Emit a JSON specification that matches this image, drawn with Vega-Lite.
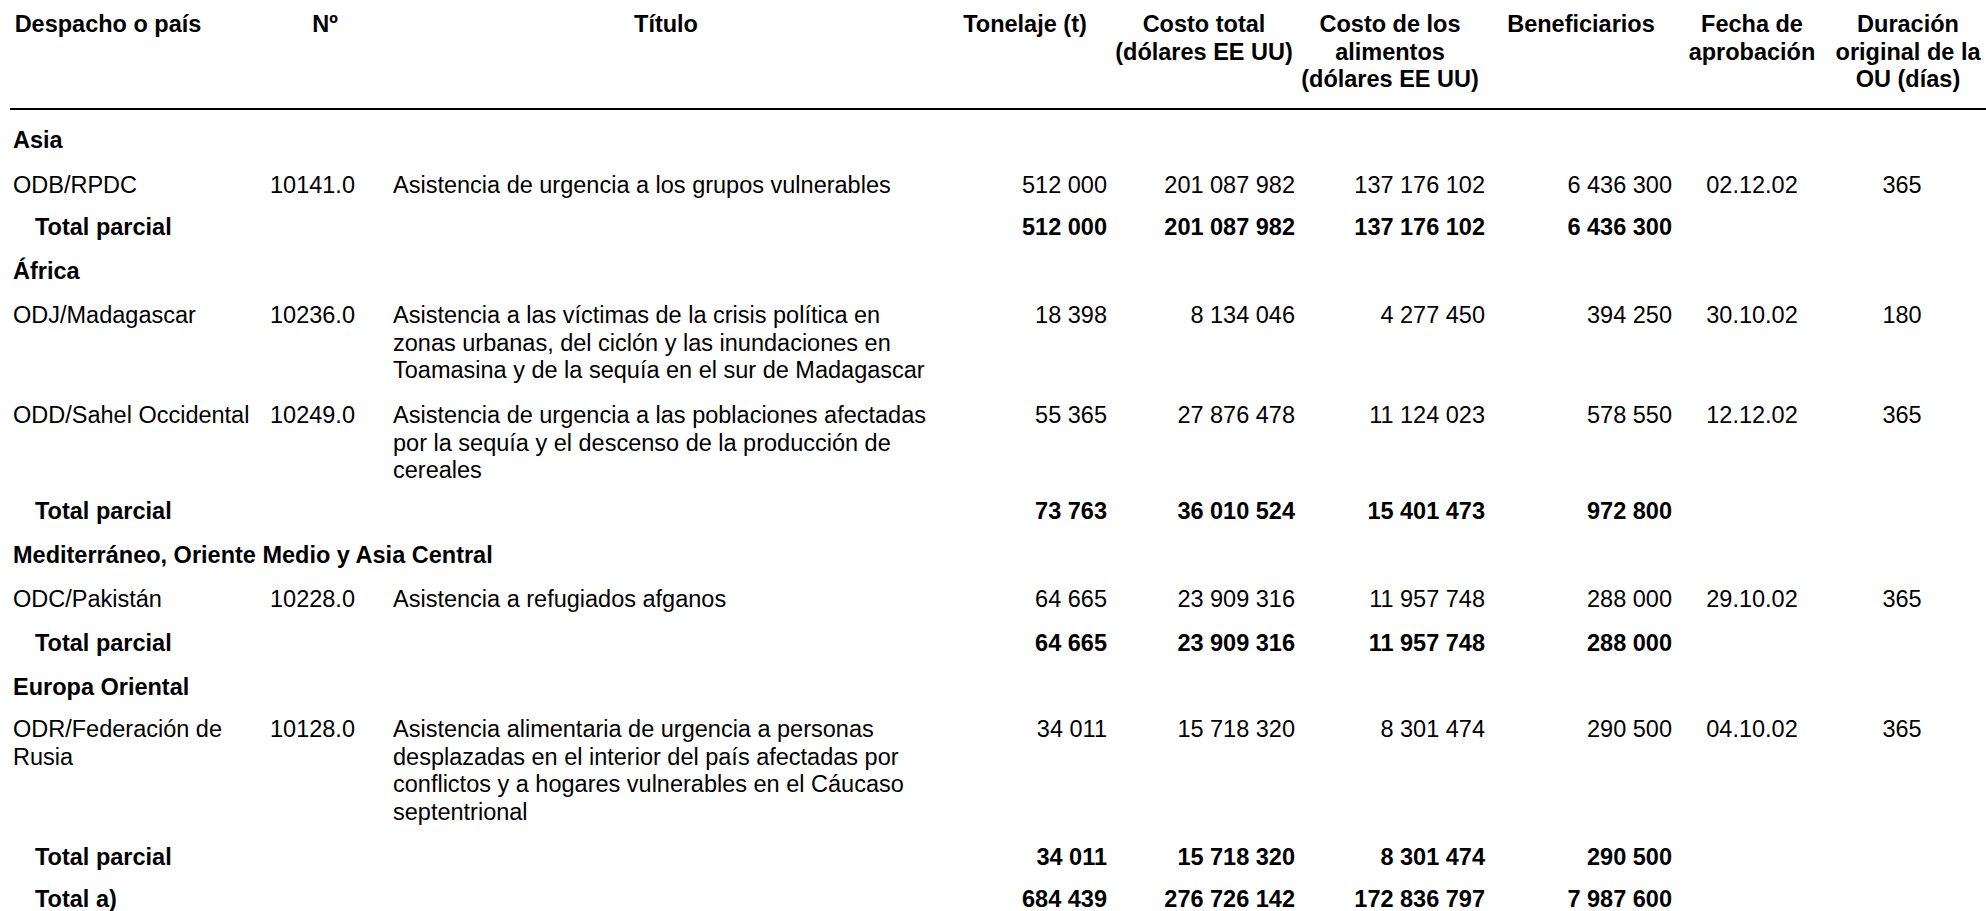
{
  "$schema": "https://vega.github.io/schema/vega-lite/v6.json",
  "width": 1986,
  "height": 911,
  "padding": 0,
  "autosize": {"type": "none"},
  "background": "white",
  "config": {
    "view": {"stroke": null},
    "text": {"font": "Liberation Sans", "fontSize": 23.5, "lineHeight": 27.5, "lineBreak": "\n", "color": "#000000", "baseline": "alphabetic"}
  },
  "data": {
    "values": [
      {"r": 0, "c": 3, "tipo": "encabezado", "texto": "Despacho o país"},
      {"r": 0, "c": 5, "tipo": "encabezado", "texto": "Nº"},
      {"r": 0, "c": 7, "tipo": "encabezado", "texto": "Título"},
      {"r": 0, "c": 8, "tipo": "encabezado", "texto": "Tonelaje (t)"},
      {"r": 0, "c": 10, "tipo": "encabezado", "texto": "Costo total\n(dólares EE UU)"},
      {"r": 0, "c": 12, "tipo": "encabezado", "texto": "Costo de los\nalimentos\n(dólares EE UU)"},
      {"r": 0, "c": 14, "tipo": "encabezado", "texto": "Beneficiarios"},
      {"r": 0, "c": 16, "tipo": "encabezado", "texto": "Fecha de\naprobación"},
      {"r": 0, "c": 18, "tipo": "encabezado", "texto": "Duración\noriginal de la\nOU (días)"},
      {"r": 1, "c": 0, "c2": 19, "tipo": "regla"},
      {"r": 2, "c": 1, "tipo": "region", "texto": "Asia"},
      {"r": 3, "c": 1, "tipo": "proyecto", "texto": "ODB/RPDC"},
      {"r": 3, "c": 4, "tipo": "proyecto", "texto": "10141.0"},
      {"r": 3, "c": 6, "tipo": "proyecto", "texto": "Asistencia de urgencia a los grupos vulnerables"},
      {"r": 3, "c": 9, "tipo": "proyecto", "texto": "512 000"},
      {"r": 3, "c": 11, "tipo": "proyecto", "texto": "201 087 982"},
      {"r": 3, "c": 13, "tipo": "proyecto", "texto": "137 176 102"},
      {"r": 3, "c": 15, "tipo": "proyecto", "texto": "6 436 300"},
      {"r": 3, "c": 16, "tipo": "proyecto", "texto": "02.12.02"},
      {"r": 3, "c": 17, "tipo": "proyecto", "texto": "365"},
      {"r": 4, "c": 2, "tipo": "subtotal", "texto": "Total parcial"},
      {"r": 4, "c": 9, "tipo": "subtotal", "texto": "512 000"},
      {"r": 4, "c": 11, "tipo": "subtotal", "texto": "201 087 982"},
      {"r": 4, "c": 13, "tipo": "subtotal", "texto": "137 176 102"},
      {"r": 4, "c": 15, "tipo": "subtotal", "texto": "6 436 300"},
      {"r": 5, "c": 1, "tipo": "region", "texto": "África"},
      {"r": 6, "c": 1, "tipo": "proyecto", "texto": "ODJ/Madagascar"},
      {"r": 6, "c": 4, "tipo": "proyecto", "texto": "10236.0"},
      {"r": 6, "c": 6, "tipo": "proyecto", "texto": "Asistencia a las víctimas de la crisis política en\nzonas urbanas, del ciclón y las inundaciones en\nToamasina y de la sequía en el sur de Madagascar"},
      {"r": 6, "c": 9, "tipo": "proyecto", "texto": "18 398"},
      {"r": 6, "c": 11, "tipo": "proyecto", "texto": "8 134 046"},
      {"r": 6, "c": 13, "tipo": "proyecto", "texto": "4 277 450"},
      {"r": 6, "c": 15, "tipo": "proyecto", "texto": "394 250"},
      {"r": 6, "c": 16, "tipo": "proyecto", "texto": "30.10.02"},
      {"r": 6, "c": 17, "tipo": "proyecto", "texto": "180"},
      {"r": 7, "c": 1, "tipo": "proyecto", "texto": "ODD/Sahel Occidental"},
      {"r": 7, "c": 4, "tipo": "proyecto", "texto": "10249.0"},
      {"r": 7, "c": 6, "tipo": "proyecto", "texto": "Asistencia de urgencia a las poblaciones afectadas\npor la sequía y el descenso de la producción de\ncereales"},
      {"r": 7, "c": 9, "tipo": "proyecto", "texto": "55 365"},
      {"r": 7, "c": 11, "tipo": "proyecto", "texto": "27 876 478"},
      {"r": 7, "c": 13, "tipo": "proyecto", "texto": "11 124 023"},
      {"r": 7, "c": 15, "tipo": "proyecto", "texto": "578 550"},
      {"r": 7, "c": 16, "tipo": "proyecto", "texto": "12.12.02"},
      {"r": 7, "c": 17, "tipo": "proyecto", "texto": "365"},
      {"r": 8, "c": 2, "tipo": "subtotal", "texto": "Total parcial"},
      {"r": 8, "c": 9, "tipo": "subtotal", "texto": "73 763"},
      {"r": 8, "c": 11, "tipo": "subtotal", "texto": "36 010 524"},
      {"r": 8, "c": 13, "tipo": "subtotal", "texto": "15 401 473"},
      {"r": 8, "c": 15, "tipo": "subtotal", "texto": "972 800"},
      {"r": 9, "c": 1, "tipo": "region", "texto": "Mediterráneo, Oriente Medio y Asia Central"},
      {"r": 10, "c": 1, "tipo": "proyecto", "texto": "ODC/Pakistán"},
      {"r": 10, "c": 4, "tipo": "proyecto", "texto": "10228.0"},
      {"r": 10, "c": 6, "tipo": "proyecto", "texto": "Asistencia a refugiados afganos"},
      {"r": 10, "c": 9, "tipo": "proyecto", "texto": "64 665"},
      {"r": 10, "c": 11, "tipo": "proyecto", "texto": "23 909 316"},
      {"r": 10, "c": 13, "tipo": "proyecto", "texto": "11 957 748"},
      {"r": 10, "c": 15, "tipo": "proyecto", "texto": "288 000"},
      {"r": 10, "c": 16, "tipo": "proyecto", "texto": "29.10.02"},
      {"r": 10, "c": 17, "tipo": "proyecto", "texto": "365"},
      {"r": 11, "c": 2, "tipo": "subtotal", "texto": "Total parcial"},
      {"r": 11, "c": 9, "tipo": "subtotal", "texto": "64 665"},
      {"r": 11, "c": 11, "tipo": "subtotal", "texto": "23 909 316"},
      {"r": 11, "c": 13, "tipo": "subtotal", "texto": "11 957 748"},
      {"r": 11, "c": 15, "tipo": "subtotal", "texto": "288 000"},
      {"r": 12, "c": 1, "tipo": "region", "texto": "Europa Oriental"},
      {"r": 13, "c": 1, "tipo": "proyecto", "texto": "ODR/Federación de\nRusia"},
      {"r": 13, "c": 4, "tipo": "proyecto", "texto": "10128.0"},
      {"r": 13, "c": 6, "tipo": "proyecto", "texto": "Asistencia alimentaria de urgencia a personas\ndesplazadas en el interior del país afectadas por\nconflictos y a hogares vulnerables en el Cáucaso\nseptentrional"},
      {"r": 13, "c": 9, "tipo": "proyecto", "texto": "34 011"},
      {"r": 13, "c": 11, "tipo": "proyecto", "texto": "15 718 320"},
      {"r": 13, "c": 13, "tipo": "proyecto", "texto": "8 301 474"},
      {"r": 13, "c": 15, "tipo": "proyecto", "texto": "290 500"},
      {"r": 13, "c": 16, "tipo": "proyecto", "texto": "04.10.02"},
      {"r": 13, "c": 17, "tipo": "proyecto", "texto": "365"},
      {"r": 14, "c": 2, "tipo": "subtotal", "texto": "Total parcial"},
      {"r": 14, "c": 9, "tipo": "subtotal", "texto": "34 011"},
      {"r": 14, "c": 11, "tipo": "subtotal", "texto": "15 718 320"},
      {"r": 14, "c": 13, "tipo": "subtotal", "texto": "8 301 474"},
      {"r": 14, "c": 15, "tipo": "subtotal", "texto": "290 500"},
      {"r": 15, "c": 2, "tipo": "total", "texto": "Total a)"},
      {"r": 15, "c": 9, "tipo": "total", "texto": "684 439"},
      {"r": 15, "c": 11, "tipo": "total", "texto": "276 726 142"},
      {"r": 15, "c": 13, "tipo": "total", "texto": "172 836 797"},
      {"r": 15, "c": 15, "tipo": "total", "texto": "7 987 600"}
    ]
  },
  "encoding": {
    "x": {
      "field": "c", "type": "quantitative", "axis": null,
      "scale": {
        "domain": [0, 1, 2, 3, 4, 5, 6, 7, 8, 9, 10, 11, 12, 13, 14, 15, 16, 17, 18, 19],
        "range": [10, 13, 35, 108, 270, 325, 393, 666, 1025, 1107, 1204, 1295, 1390, 1485, 1581, 1672, 1752, 1902, 1908, 1986],
        "zero": false, "nice": false
      }
    },
    "y": {
      "field": "r", "type": "quantitative", "axis": null,
      "scale": {
        "domain": [0, 1, 2, 3, 4, 5, 6, 7, 8, 9, 10, 11, 12, 13, 14, 15],
        "range": [32, 109, 148, 193, 235, 279, 323, 423, 519, 563, 607, 651, 695, 737, 865, 907],
        "zero": false, "nice": false
      }
    }
  },
  "layer": [
    {
      "transform": [{"filter": "datum.tipo === 'regla'"}],
      "mark": {"type": "rule", "strokeWidth": 2, "color": "#000000"},
      "encoding": {"x2": {"field": "c2"}}
    },
    {
      "transform": [{"filter": "datum.tipo === 'encabezado'"}],
      "mark": {"type": "text", "fontWeight": "bold", "align": "center"},
      "encoding": {"text": {"field": "texto"}}
    },
    {
      "transform": [{"filter": "(datum.tipo === 'region' || datum.tipo === 'subtotal' || datum.tipo === 'total') && datum.c <= 6"}],
      "mark": {"type": "text", "fontWeight": "bold", "align": "left"},
      "encoding": {"text": {"field": "texto"}}
    },
    {
      "transform": [{"filter": "datum.tipo === 'proyecto' && datum.c <= 6"}],
      "mark": {"type": "text", "align": "left"},
      "encoding": {"text": {"field": "texto"}}
    },
    {
      "transform": [{"filter": "datum.tipo === 'proyecto' && datum.c >= 9 && datum.c <= 15"}],
      "mark": {"type": "text", "align": "right"},
      "encoding": {"text": {"field": "texto"}}
    },
    {
      "transform": [{"filter": "(datum.tipo === 'subtotal' || datum.tipo === 'total') && datum.c >= 9 && datum.c <= 15"}],
      "mark": {"type": "text", "fontWeight": "bold", "align": "right"},
      "encoding": {"text": {"field": "texto"}}
    },
    {
      "transform": [{"filter": "datum.tipo === 'proyecto' && datum.c >= 16"}],
      "mark": {"type": "text", "align": "center"},
      "encoding": {"text": {"field": "texto"}}
    }
  ]
}
